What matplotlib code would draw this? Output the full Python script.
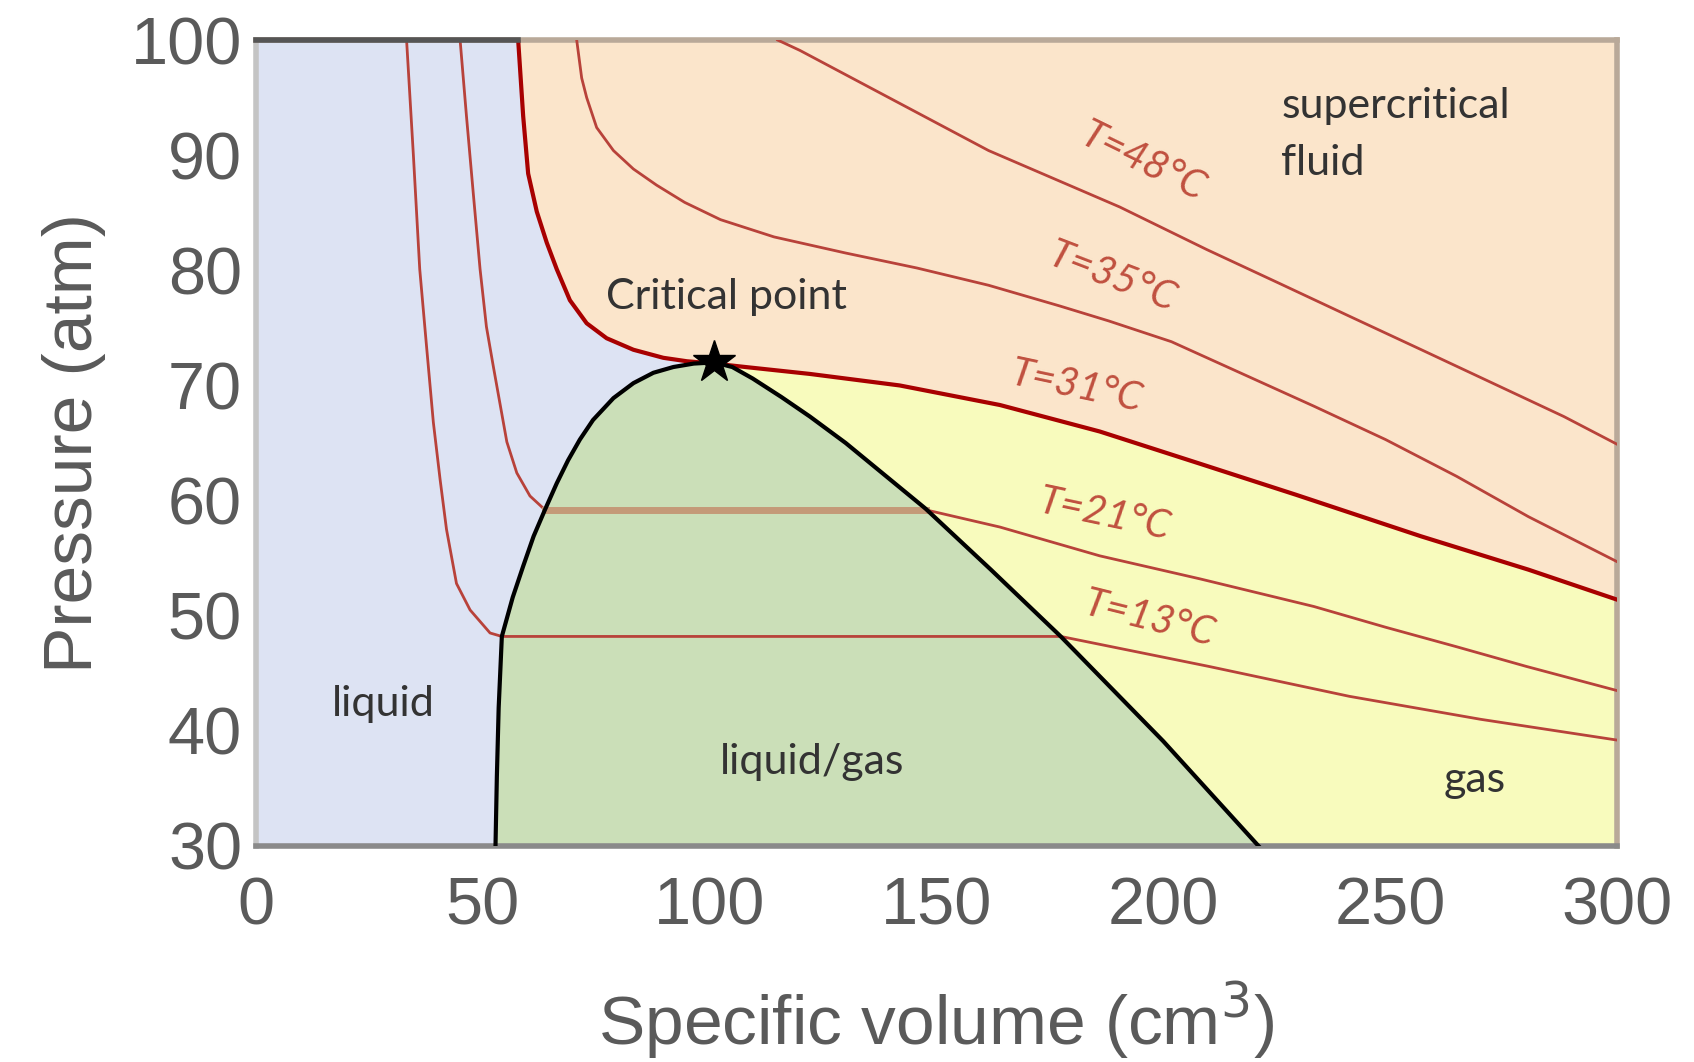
import numpy as np
import matplotlib
matplotlib.use("Agg")
import matplotlib.pyplot as plt

# Dome (saturation curve)
dome_x = [52.8, 53.1, 53.5, 54.2, 56.6, 58.9, 61.2, 63.7, 66.3, 68.8, 71.4, 74.3,
          78.8, 83.2, 87.6, 92.0, 96.5, 101.0, 105.0, 109.5, 115.8, 122.1, 130.0,
          147.6, 162.0, 177.4, 200.0, 221.0]
dome_y = [30.0, 36.0, 42.0, 48.2, 51.6, 54.3, 56.9, 59.2, 61.5, 63.5, 65.3, 67.0,
          68.9, 70.2, 71.1, 71.6, 71.9, 72.0, 71.6, 70.6, 69.0, 67.3, 65.0,
          59.3, 54.0, 48.2, 39.1, 30.0]

# Isotherms
t13_x = [33.2, 34.7, 36.1, 37.6, 39.1, 40.6, 42.0, 44.2, 47.2, 51.6, 54.2,
         177.4, 210.0, 241.0, 270.0, 300.0]
t13_y = [100.0, 90.0, 80.1, 73.4, 66.8, 61.8, 57.5, 52.8, 50.5, 48.5, 48.2,
         48.2, 45.6, 43.0, 41.0, 39.2]

t21_x = [45.0, 46.4, 47.9, 49.4, 50.8, 52.3, 53.8, 55.3, 57.5, 60.4, 63.7,
         147.6, 164.0, 186.0, 208.1, 233.2, 249.0, 264.7, 280.0, 300.0]
t21_y = [100.0, 93.4, 86.7, 80.1, 75.1, 71.7, 68.4, 65.1, 62.4, 60.4, 59.2,
         59.2, 57.7, 55.2, 53.2, 50.8, 49.0, 47.3, 45.6, 43.5]

t31_x = [57.8, 58.9, 60.0, 61.9, 64.1, 66.3, 69.2, 72.9, 77.3, 83.2, 89.8, 95.0,
         101.0, 107.9, 122.1, 141.9, 164.0, 186.0, 208.1, 229.3, 256.8,
         280.5, 300.0]
t31_y = [100.0, 93.4, 88.4, 85.1, 82.4, 80.1, 77.4, 75.4, 74.1, 73.1, 72.4, 72.1,
         71.9, 71.6, 71.0, 70.0, 68.3, 66.0, 63.2, 60.5, 56.9,
         54.0, 51.4]

t35_x = [70.7, 71.8, 72.9, 75.1, 78.8, 83.2, 88.3, 94.5, 102.4, 114.2, 130.0,
         145.7, 161.5, 177.2, 188.0, 201.8, 217.5, 233.2, 249.0, 264.7, 280.5, 300.0]
t35_y = [100.0, 96.7, 95.0, 92.4, 90.4, 88.8, 87.4, 85.9, 84.4, 82.9, 81.5,
         80.2, 78.7, 76.9, 75.6, 73.8, 71.0, 68.2, 65.3, 62.1, 58.6, 54.7]

t48_x = [115.0, 119.9, 161.5, 190.4, 209.6, 225.4, 241.1, 256.9, 272.6, 288.3, 300.0]
t48_y = [100.0, 99.1, 90.4, 85.5, 81.8, 78.9, 76.0, 73.1, 70.2, 67.3, 64.9]

crit_x, crit_y = 101.0, 72.0

iso_labels = ["T=48°C", "T=35°C", "T=31°C", "T=21°C", "T=13°C"]
iso_label_x = [195.5, 188.8, 181.0, 187.0, 197.0]
iso_label_y = [89.4, 79.4, 69.9, 58.8, 49.7]
iso_label_rot = [-26, -21, -12, -12, -14]

region_labels = ["liquid", "liquid/gas", "gas", "supercritical\nfluid", "Critical point"]
region_x = [28.0, 122.6, 268.6, 226.0, 103.6]
region_y = [42.3, 37.3, 35.7, 91.8, 77.7]

# colours
c_liquid = '#dde3f3'
c_super = '#fbe5cb'
c_dome = '#cbdfb8'
c_gas = '#f8fbbd'
c_iso = '#b8423a'
c_crit = '#a80000'

fig = plt.figure(figsize=(16.94, 10.62), dpi=100)
ax = fig.add_axes([0.1511, 0.2034, 0.8034, 0.7589])
ax.set_facecolor(c_liquid)

# supercritical region above the 31 C isotherm
ax.fill_between(t31_x, t31_y, 100, color=c_super, lw=0, zorder=1)

# gas region: right of dome, below 31 C isotherm
dx = np.array(dome_x)
dy = np.array(dome_y)
i_top = int(np.argmax(dy))
t31 = np.array([t31_x, t31_y])
mask = t31[0] >= dx[i_top]
gas_x = np.concatenate([dx[i_top:], [300, 300], t31[0][mask][::-1]])
gas_y = np.concatenate([dy[i_top:], [30, t31[1][-1]], t31[1][mask][::-1]])
ax.fill(gas_x, gas_y, color=c_gas, lw=0, zorder=1)

# liquid/gas dome
ax.fill(dome_x, dome_y, color=c_dome, lw=0, zorder=2)

# isotherms
for xs, ys in [(t13_x, t13_y), (t21_x, t21_y), (t35_x, t35_y), (t48_x, t48_y)]:
    ax.plot(xs, ys, color=c_iso, lw=2.0, zorder=3, solid_joinstyle='round')
ax.plot(t31_x, t31_y, color=c_crit, lw=3.0, zorder=4, solid_joinstyle='round')

# tie line at 21 C drawn lighter/thicker
ax.plot([t21_x[10], t21_x[11]], [t21_y[10], t21_y[11]], color='#c49a78', lw=5, zorder=3)

# dome outline
ax.plot(dome_x, dome_y, color='black', lw=3, zorder=5, solid_joinstyle='round')

# critical point
ax.plot(crit_x, crit_y, marker='*', color='black', markersize=32, zorder=6)

for lab, x, y, r in zip(iso_labels, iso_label_x, iso_label_y, iso_label_rot):
    ax.text(x, y, lab, color='#c0503f', fontsize=29, style='italic', rotation=r,
            ha='center', va='center', family='Lato', zorder=7)

for lab, x, y in zip(region_labels, region_x, region_y):
    ha = 'left' if lab.startswith('super') else 'center'
    ax.text(x, y, lab, color='#333333', fontsize=31, ha=ha, va='center',
            family='Lato', linespacing=1.6, zorder=7)

ax.set_xlim(0, 300)
ax.set_ylim(30, 100)
ax.set_xticks(range(0, 301, 50))
ax.set_yticks(range(30, 101, 10))
ax.tick_params(length=0, labelsize=48, labelcolor='#5a5a5a', pad=10)
ax.tick_params(axis='x', pad=22)
for lab in ax.get_xticklabels() + ax.get_yticklabels():
    lab.set_family('Liberation Sans')

ax.set_xlabel('Specific volume (cm$^3$)', fontsize=50, color='#5a5a5a',
              family='Liberation Sans', labelpad=30)
ax.set_ylabel('Pressure (atm)', fontsize=50, color='#5a5a5a',
              family='Liberation Sans', labelpad=18)

ax.spines['left'].set_color('#c4c4c4')
ax.spines['bottom'].set_color('#8a8a8a')
ax.spines['right'].set_color('#b9a999')
ax.spines['top'].set_color('#b9a999')
for s in ax.spines.values():
    s.set_linewidth(4)
ax.plot([0, t31_x[0]], [100, 100], color='#555555', lw=4, clip_on=False, zorder=8)

fig.savefig('out.png', dpi=100)
